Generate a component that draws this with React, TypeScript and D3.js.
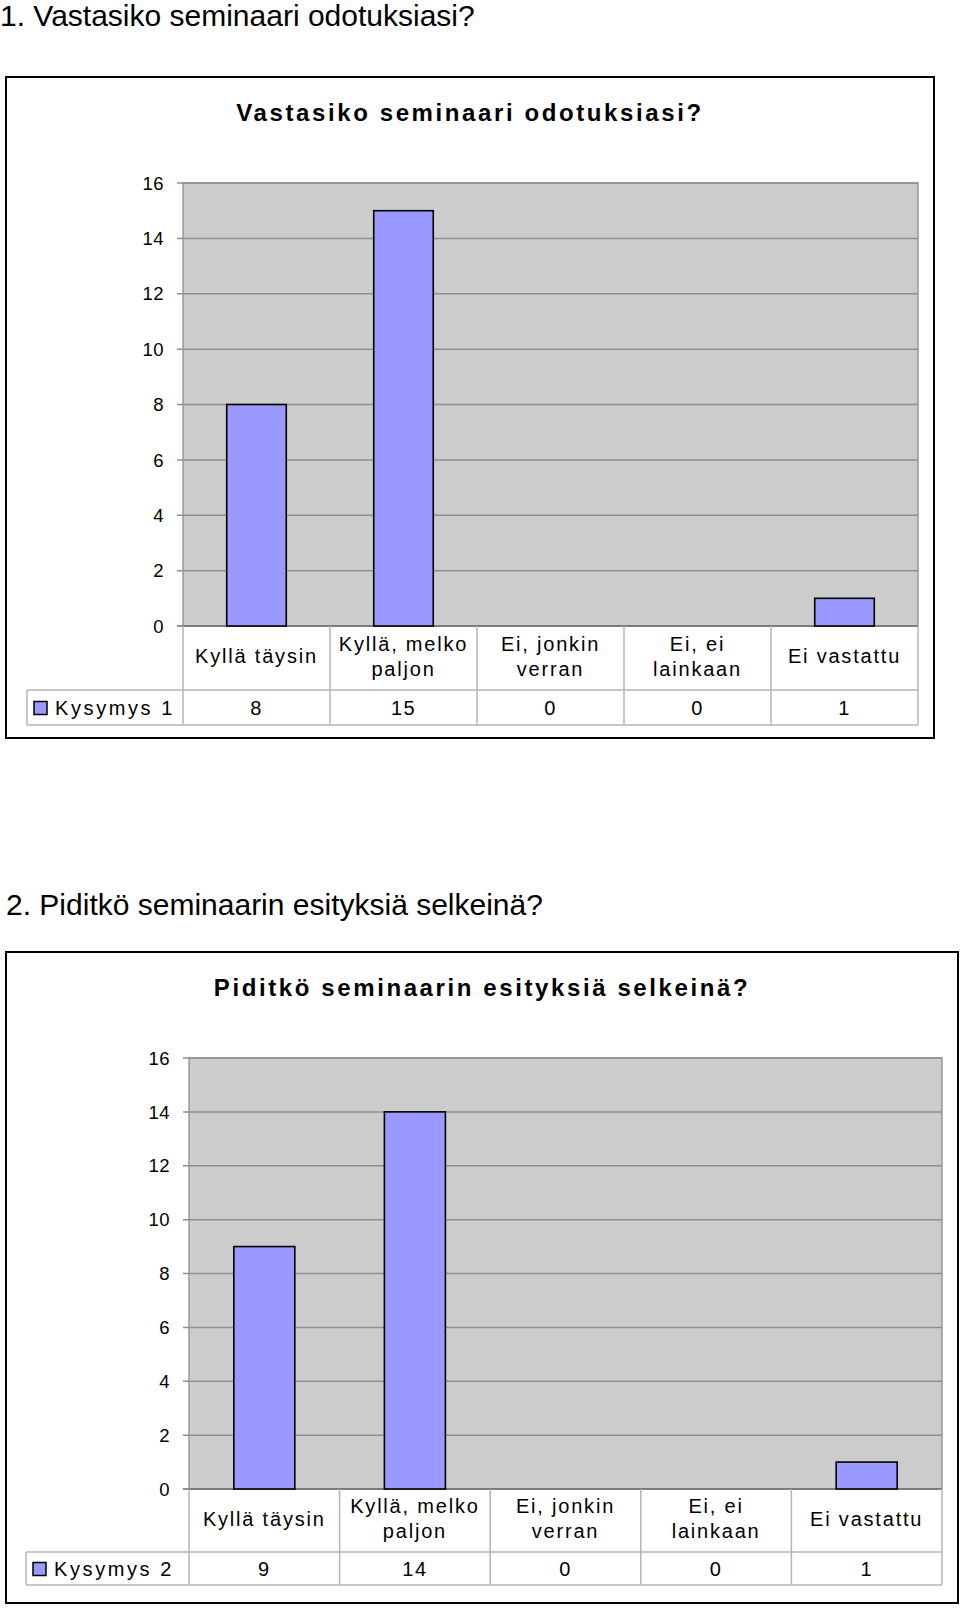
import * as d3 from "d3"

const categories = [
  "Kyllä täysin",
  "Kyllä, melko\npaljon",
  "Ei, jonkin\nverran",
  "Ei, ei\nlainkaan",
  "Ei vastattu"
]
const question1Values = [8, 15, 0, 0, 1]
const question2Values = [9, 14, 0, 0, 1]
const yMax = 16
const yTickCount = 8

const FONT = "'Liberation Sans', Arial, Helvetica, sans-serif"
const BAR_FILL = "#9999ff"

interface PanelProps {
  header: string
  headerX: number
  headerY: number
  title: string
  seriesName: string
  values: number[]
  box: { x0: number; y0: number; x1: number; y1: number }
  titleY: number
  plot: { x0: number; y0: number; x1: number; y1: number }
  labelRowBottom: number
  valueRowBottom: number
  legendLeft: number
}

const ChartPanel = (p: PanelProps) => {
  const x = d3
    .scaleBand<string>()
    .domain(categories)
    .range([p.plot.x0, p.plot.x1])
    .paddingInner(0)
    .paddingOuter(0)
  const y = d3.scaleLinear().domain([0, yMax]).range([p.plot.y1, p.plot.y0])
  const ticks = y.ticks(yTickCount)
  const bw = x.bandwidth()
  const barW = bw * 0.405
  const tableLine = "#b4b4b4"
  const labelMid = (p.plot.y1 + p.labelRowBottom) / 2 - 2
  const valueMid = (p.labelRowBottom + p.valueRowBottom) / 2

  return (
    <g>
      {/* heading above the chart */}
      <text x={p.headerX} y={p.headerY} fontSize={30} fontFamily={FONT} fill="#000">
        {p.header}
      </text>

      {/* chart frame */}
      <rect
        x={p.box.x0}
        y={p.box.y0}
        width={p.box.x1 - p.box.x0}
        height={p.box.y1 - p.box.y0}
        fill="#fff"
        stroke="#000"
        strokeWidth={2}
      />
      <text
        x={(p.box.x0 + p.box.x1) / 2}
        y={p.titleY}
        textAnchor="middle"
        fontSize={24}
        fontWeight="bold"
        letterSpacing={2.6}
        fontFamily={FONT}
      >
        {p.title}
      </text>

      {/* plot area */}
      <rect
        x={p.plot.x0}
        y={p.plot.y0}
        width={p.plot.x1 - p.plot.x0}
        height={p.plot.y1 - p.plot.y0}
        fill="#cccccc"
        stroke="#999"
        strokeWidth={1.5}
      />
      {ticks.map(t => (
        <g key={t}>
          <line
            x1={p.plot.x0 - 6}
            x2={p.plot.x1}
            y1={y(t)}
            y2={y(t)}
            stroke={t === 0 ? "#6e6e6e" : "#8f8f8f"}
            strokeWidth={1.5}
          />
          <text
            x={p.plot.x0 - 19}
            y={y(t)}
            dy="0.36em"
            textAnchor="end"
            fontSize={18.5}
            letterSpacing={0.4}
            fontFamily={FONT}
          >
            {t}
          </text>
        </g>
      ))}

      {/* bars */}
      {p.values.map((v, i) =>
        v > 0 ? (
          <rect
            key={i}
            x={(x(categories[i]) ?? 0) + (bw - barW) / 2}
            y={y(v)}
            width={barW}
            height={y(0) - y(v)}
            fill={BAR_FILL}
            stroke="#000"
            strokeWidth={1.6}
          />
        ) : null
      )}

      {/* data table */}
      <g stroke={tableLine} strokeWidth={1.5}>
        <line x1={p.legendLeft} x2={p.plot.x1} y1={p.labelRowBottom} y2={p.labelRowBottom} />
        <line x1={p.legendLeft} x2={p.plot.x1} y1={p.valueRowBottom} y2={p.valueRowBottom} />
        <line x1={p.legendLeft} x2={p.legendLeft} y1={p.labelRowBottom} y2={p.valueRowBottom} />
        {categories.map(c => (
          <line
            key={c}
            x1={x(c) ?? 0}
            x2={x(c) ?? 0}
            y1={p.plot.y1}
            y2={p.valueRowBottom}
          />
        ))}
        <line x1={p.plot.x1} x2={p.plot.x1} y1={p.plot.y1} y2={p.valueRowBottom} />
      </g>

      {categories.map(c => {
        const lines = c.split("\n")
        const cx = (x(c) ?? 0) + bw / 2
        const lh = 25
        const first = labelMid - ((lines.length - 1) * lh) / 2
        return (
          <text
            key={c}
            textAnchor="middle"
            fontSize={20}
            letterSpacing={1.8}
            fontFamily={FONT}
          >
            {lines.map((l, j) => (
              <tspan key={j} x={cx} y={first + j * lh} dy="0.36em">
                {l}
              </tspan>
            ))}
          </text>
        )
      })}

      {p.values.map((v, i) => (
        <text
          key={i}
          x={(x(categories[i]) ?? 0) + bw / 2}
          y={valueMid}
          dy="0.36em"
          textAnchor="middle"
          fontSize={20}
          letterSpacing={1.5}
          fontFamily={FONT}
        >
          {v}
        </text>
      ))}

      {/* legend key */}
      <rect
        x={p.legendLeft + 7}
        y={valueMid - 6}
        width={13}
        height={13}
        fill={BAR_FILL}
        stroke="#000"
        strokeWidth={1.5}
      />
      <text
        x={p.legendLeft + 28}
        y={valueMid}
        dy="0.36em"
        fontSize={20}
        letterSpacing={2.6}
        fontFamily={FONT}
      >
        {p.seriesName}
      </text>
    </g>
  )
}

export default function App() {
  return (
    <svg
      width={960}
      height={1609}
      style={{ position: "absolute", left: 0, top: 0, background: "#fff" }}
    >
      <ChartPanel
        header="1. Vastasiko seminaari odotuksiasi?"
        headerX={0}
        headerY={26}
        title="Vastasiko seminaari odotuksiasi?"
        seriesName="Kysymys 1"
        values={question1Values}
        box={{ x0: 6, y0: 77, x1: 934, y1: 738 }}
        titleY={121}
        plot={{ x0: 183, y0: 183, x1: 918, y1: 626 }}
        labelRowBottom={690}
        valueRowBottom={725}
        legendLeft={27}
      />
      <ChartPanel
        header="2. Piditkö seminaarin esityksiä selkeinä?"
        headerX={6}
        headerY={915}
        title="Piditkö seminaarin esityksiä selkeinä?"
        seriesName="Kysymys 2"
        values={question2Values}
        box={{ x0: 6, y0: 952, x1: 958, y1: 1603 }}
        titleY={996}
        plot={{ x0: 189, y0: 1058, x1: 942, y1: 1489 }}
        labelRowBottom={1552}
        valueRowBottom={1585}
        legendLeft={26}
      />
    </svg>
  )
}
